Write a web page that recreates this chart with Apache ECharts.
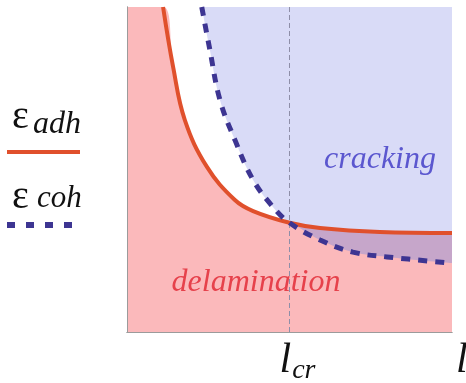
<!DOCTYPE html>
<html>
<head>
<meta charset="utf-8">
<script src="https://cdn.jsdelivr.net/npm/echarts@6/dist/echarts.min.js"></script>
<style>
html,body{margin:0;padding:0;background:#fff;}
#chart{width:466px;height:383px;}
</style>
</head>
<body>
<div id="chart"></div>
<script>
// ---- data ----
const xRange = [0, 10];
const yRange = [0, 10];
const lcr = 5;                       // critical length l_cr
const xTickLabels = { 5: 'lcr', 10: 'l' };
// epsilon_adh (solid red)
const adhX = [1.11, 1.42, 1.78, 2.46, 3.32, 3.88, 5.00, 5.94, 7.78, 10.0];
const adhY = [10.0, 8.15, 6.52, 5.08, 4.06, 3.72, 3.36, 3.20, 3.08, 3.05];
// epsilon_coh (dashed blue)
const cohX = [2.30, 2.55, 2.86, 3.32, 3.88, 4.49, 5.00, 5.94, 6.95, 8.00, 10.0];
const cohY = [10.0, 8.68, 7.14, 5.91, 4.68, 3.85, 3.36, 2.83, 2.46, 2.31, 2.12];

// ---- build ----
const adh = adhX.map((x, i) => [x, adhY[i]]);
const coh = cohX.map((x, i) => [x, cohY[i]]);
const adhRight = adh.filter(p => p[0] >= lcr);
const pinkEdge = [[xRange[0], yRange[1]]]
  .concat(adh.filter(p => p[0] <= lcr))
  .concat(coh.filter(p => p[0] > lcr));

const C = {
  pink: '#fbb9bb', blue: '#d9dbf7', purple: '#c6a6ca',
  red: '#e0502c', navy: '#3d3592', frame: '#9b9b9b'
};
const SERIF = 'Liberation Serif';
const sm = { smooth: 0.4, showSymbol: false, symbol: 'none', clip: true };

const chart = echarts.init(document.getElementById('chart'), null, { renderer: 'canvas' });
const frameAxis = {
  axisLabel: { show: false }, axisTick: { show: false },
  splitLine: { show: false }, axisLine: { show: true, lineStyle: { color: C.frame, width: 1 } }, z: 10
};
function txt(text, x, y, size, italic, color, align) {
  return { type: 'text', z: 20, style: { text: text, x: x, y: y, textAlign: align || 'left', textVerticalAlign: 'middle',
    fontFamily: SERIF, fontSize: size, fontStyle: italic ? 'italic' : 'normal', fill: color } };
}
chart.setOption({
  animation: false,
  backgroundColor: '#fff',
  grid: { left: 127, right: 14, top: 7, bottom: 51, containLabel: false, outerBoundsMode: 'none' },
  xAxis: [Object.assign({}, frameAxis, {
    type: 'value', min: xRange[0], max: xRange[1], interval: 5, position: 'bottom',
    axisLabel: {
      show: true, margin: 8, alignMaxLabel: 'left', hideOverlap: false,
      formatter: v => xTickLabels[v] === 'lcr' ? '{a|l}{b|cr}' : (xTickLabels[v] === 'l' ? '{m|l}' : ''),
      rich: {
        a: { fontFamily: SERIF, fontStyle: 'italic', fontSize: 42, lineHeight: 40, verticalAlign: 'top', color: '#111', padding: [0, 0, 0, 16] },
        b: { fontFamily: SERIF, fontStyle: 'italic', fontSize: 28, lineHeight: 18, verticalAlign: 'top', color: '#111', padding: [17, 0, 0, 1] },
        m: { fontFamily: SERIF, fontStyle: 'italic', fontSize: 42, lineHeight: 40, verticalAlign: 'top', color: '#111', padding: [0, 0, 0, 4] }
      }
    }
  }), Object.assign({}, frameAxis, { type: 'value', position: 'top', min: xRange[0], max: xRange[1] })],
  yAxis: [
    Object.assign({}, frameAxis, { type: 'value', position: 'left', min: yRange[0], max: yRange[1] }),
    Object.assign({}, frameAxis, { type: 'value', position: 'right', min: yRange[0], max: yRange[1] })
  ],
  series: [
    Object.assign({ type: 'line', name: 'cracking', data: coh, lineStyle: { width: 0 },
      areaStyle: { color: C.blue, opacity: 1, origin: 'end' } }, sm),
    Object.assign({ type: 'line', name: 'overlap', data: adhRight, lineStyle: { width: 0 },
      areaStyle: { color: C.purple, opacity: 1, origin: 'start' } }, sm),
    Object.assign({ type: 'line', name: 'delamination', data: pinkEdge, lineStyle: { width: 0 },
      areaStyle: { color: C.pink, opacity: 1, origin: 'start' } }, sm),
    Object.assign({ type: 'line', name: 'ε adh', data: adh, z: 4,
      lineStyle: { color: C.red, width: 4 },
      markLine: { silent: true, symbol: 'none', label: { show: false },
        lineStyle: { color: '#8e8ea8', type: [5, 3], width: 1 }, data: [{ xAxis: lcr }] } }, sm),
    Object.assign({ type: 'line', name: 'ε coh', data: coh, z: 5,
      lineStyle: { color: C.navy, width: 5, type: [9, 8], cap: 'butt' } }, sm)
  ],
  graphic: [
    txt('cracking', 380, 160, 32, true, '#5b57cf', 'center'),
    txt('delamination', 256, 283, 32, true, '#e6414b', 'center'),
    txt('ε', 12, 117, 40, false, '#111'),
    txt('adh', 33, 125, 32, true, '#111'),
    { type: 'line', shape: { x1: 7, y1: 152, x2: 80, y2: 152 }, style: { stroke: C.red, lineWidth: 4 } },
    txt('ε', 12, 197, 40, false, '#111'),
    txt('coh', 37, 199, 31, true, '#111'),
    { type: 'line', shape: { x1: 7, y1: 225, x2: 74, y2: 225 }, style: { stroke: C.navy, lineWidth: 6, lineDash: [8, 11] } }
  ]
});
</script>
</body>
</html>
